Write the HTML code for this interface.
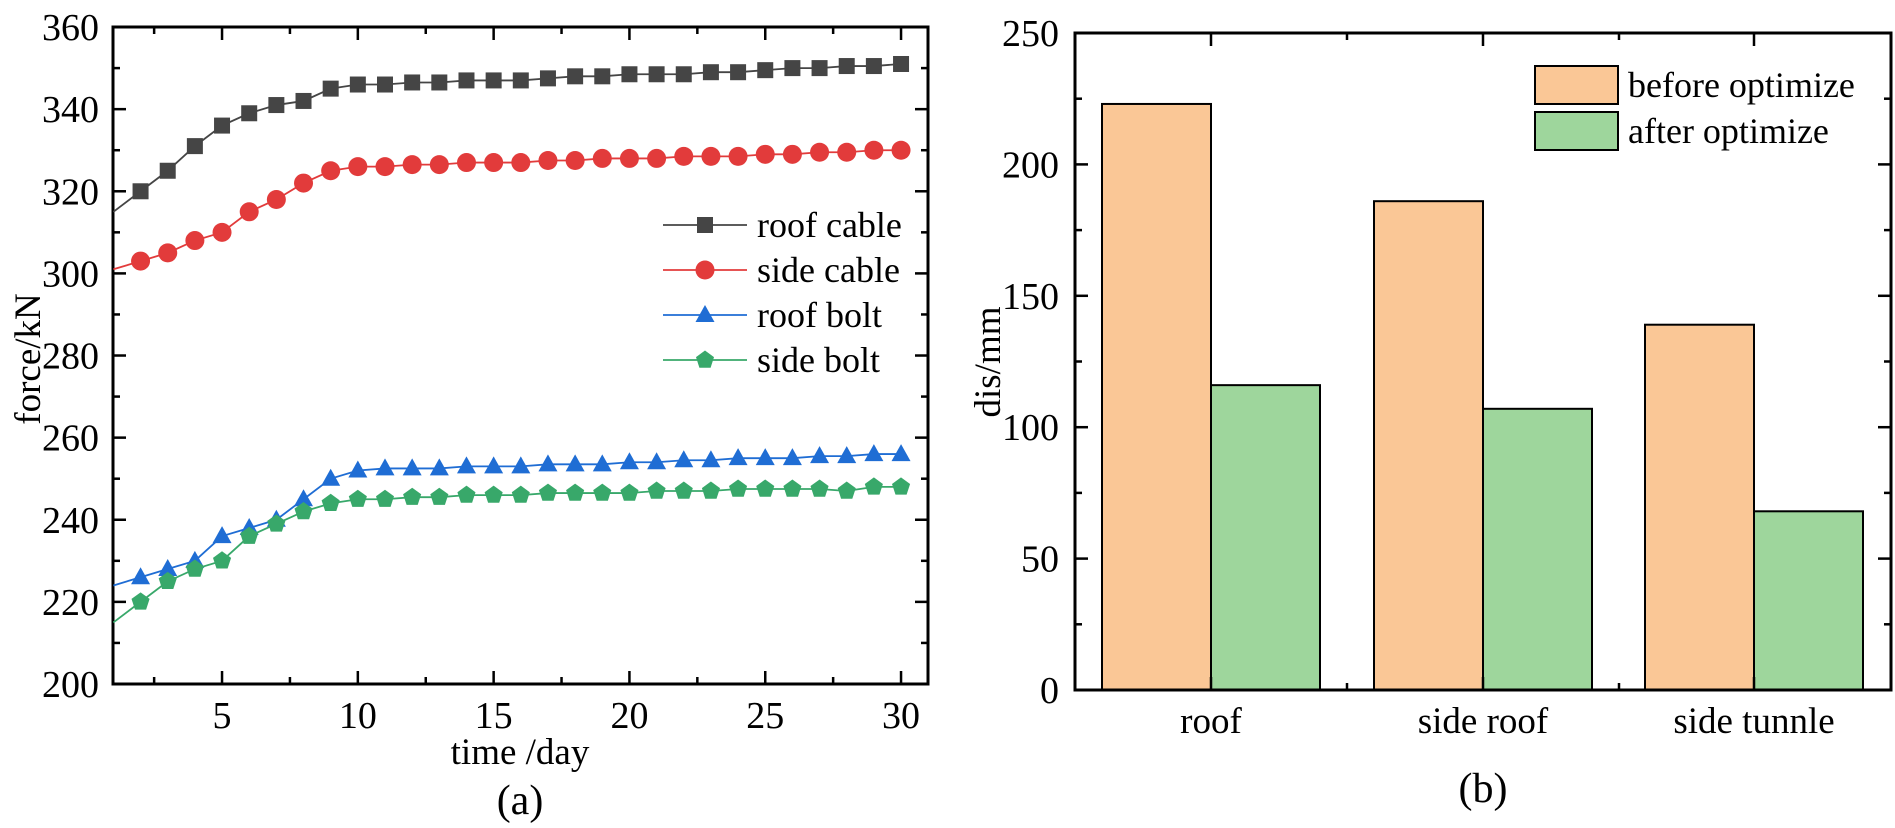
<!DOCTYPE html>
<html><head><meta charset="utf-8"><style>
html,body{margin:0;padding:0;background:#fff;}
svg{display:block;font-family:"Liberation Serif",serif;}
</style></head><body>
<svg id="s" width="1895" height="828" viewBox="0 0 1895 828" xmlns="http://www.w3.org/2000/svg"></svg>
<script>
const s=document.getElementById('s');let h='';
const X=d=>113.4+(d-1)*27.16, Y=v=>684-(v-200)*4.106;
h+='<rect x="113" y="27" width="815" height="657" fill="none" stroke="#000" stroke-width="3"/>';
for(let v=200;v<=360;v+=10){const y=Y(v),L=(v%20==0)?13:7;
 h+=`<line x1="113" y1="${y}" x2="${113+L}" y2="${y}" stroke="#000" stroke-width="2.5"/><line x1="928" y1="${y}" x2="${928-L}" y2="${y}" stroke="#000" stroke-width="2.5"/>`;
 if(v%20==0)h+=`<text x="99" y="${y+13}" font-size="38" text-anchor="end">${v}</text>`;}
for(let d=2.5;d<=30;d+=2.5){const x=X(d),L=(d%5==0)?13:7;
 h+=`<line x1="${x}" y1="684" x2="${x}" y2="${684-L}" stroke="#000" stroke-width="2.5"/><line x1="${x}" y1="27" x2="${x}" y2="${27+L}" stroke="#000" stroke-width="2.5"/>`;
 if(d%5==0)h+=`<text x="${x}" y="728" font-size="38" text-anchor="middle">${d}</text>`;}
h+='<text x="520" y="764" font-size="37" text-anchor="middle">time /day</text>';
h+='<text transform="translate(40,359) rotate(-90)" font-size="37" text-anchor="middle">force/kN</text>';
h+='<text x="520" y="814" font-size="42" text-anchor="middle">(a)</text>';
const S=[
 {c:'#454545',m:'sq',d:[315,320,325,331,336,339,341,342,345,346,346,346.5,346.5,347,347,347,347.5,348,348,348.5,348.5,348.5,349,349,349.5,350,350,350.5,350.5,351]},
 {c:'#e23b3b',m:'ci',d:[301,303,305,308,310,315,318,322,325,326,326,326.5,326.5,327,327,327,327.5,327.5,328,328,328,328.5,328.5,328.5,329,329,329.5,329.5,330,330]},
 {c:'#1f6dd4',m:'tr',d:[224,226,228,230,236,238,240,245,250,252,252.5,252.5,252.5,253,253,253,253.5,253.5,253.5,254,254,254.5,254.5,255,255,255,255.5,255.5,256,256]},
 {c:'#38a86a',m:'pe',d:[215,220,225,228,230,236,239,242,244,245,245,245.5,245.5,246,246,246,246.5,246.5,246.5,246.5,247,247,247,247.5,247.5,247.5,247.5,247,248,248]}];
function mk(m,x,y,c){
 if(m=='sq')return `<rect x="${x-8}" y="${y-8}" width="16" height="16" fill="${c}"/>`;
 if(m=='ci')return `<circle cx="${x}" cy="${y}" r="9.5" fill="${c}"/>`;
 if(m=='tr')return `<polygon points="${x},${y-10} ${x+9.5},${y+7} ${x-9.5},${y+7}" fill="${c}"/>`;
 let p=[];for(let i=0;i<5;i++){const a=-Math.PI/2+i*2*Math.PI/5;p.push((x+9.5*Math.cos(a)).toFixed(1)+','+(y+9.5*Math.sin(a)).toFixed(1));}
 return `<polygon points="${p.join(' ')}" fill="${c}"/>`;}
S.forEach(o=>{let pts=o.d.map((v,i)=>X(i+1)+','+Y(v)).join(' ');
 h+=`<polyline points="${pts}" fill="none" stroke="${o.c}" stroke-width="1.8"/>`;
 o.d.forEach((v,i)=>{if(i>0)h+=mk(o.m,X(i+1),Y(v),o.c);});});
const names=['roof cable','side cable','roof bolt','side bolt'];
S.forEach((o,i)=>{const y=225+i*45;
 h+=`<line x1="663" y1="${y}" x2="747" y2="${y}" stroke="${o.c}" stroke-width="1.8"/>`+mk(o.m,705,y,o.c)+`<text x="757" y="${y+12}" font-size="36">${names[i]}</text>`;});
const Yb=v=>690-v*2.628;
const bars=[[1102,223,'#fac796'],[1211,116,'#9ed69c'],[1374,186,'#fac796'],[1483,107,'#9ed69c'],[1645,139,'#fac796'],[1754,68,'#9ed69c']];
bars.forEach(b=>{h+=`<rect x="${b[0]}" y="${Yb(b[1])}" width="109" height="${690-Yb(b[1])}" fill="${b[2]}" stroke="#000" stroke-width="2"/>`;});
h+='<rect x="1075" y="33" width="816" height="657" fill="none" stroke="#000" stroke-width="3"/>';
for(let v=0;v<=250;v+=25){const y=Yb(v),L=(v%50==0)?13:7;
 h+=`<line x1="1075" y1="${y}" x2="${1075+L}" y2="${y}" stroke="#000" stroke-width="2.5"/><line x1="1891" y1="${y}" x2="${1891-L}" y2="${y}" stroke="#000" stroke-width="2.5"/>`;
 if(v%50==0)h+=`<text x="1059" y="${y+13}" font-size="38" text-anchor="end">${v}</text>`;}
[1211,1347,1483,1619,1754].forEach((x,i)=>{const L=(i%2==0)?13:7;
 h+=`<line x1="${x}" y1="33" x2="${x}" y2="${33+L}" stroke="#000" stroke-width="2.5"/><line x1="${x}" y1="690" x2="${x}" y2="${690-L}" stroke="#000" stroke-width="2.5"/>`;});
[['roof',1211],['side roof',1483],['side tunnle',1754]].forEach(c=>{h+=`<text x="${c[1]}" y="733" font-size="37" text-anchor="middle">${c[0]}</text>`;});
h+='<text transform="translate(1000,362) rotate(-90)" font-size="37" text-anchor="middle">dis/mm</text>';
h+='<text x="1483" y="802" font-size="42" text-anchor="middle">(b)</text>';
h+='<rect x="1535" y="66" width="83" height="38" fill="#fac796" stroke="#000" stroke-width="2"/><rect x="1535" y="112" width="83" height="38" fill="#9ed69c" stroke="#000" stroke-width="2"/>';
h+='<text x="1628" y="97" font-size="36">before optimize</text><text x="1628" y="143" font-size="36">after optimize</text>';
s.innerHTML=h;
</script>
</body></html>
